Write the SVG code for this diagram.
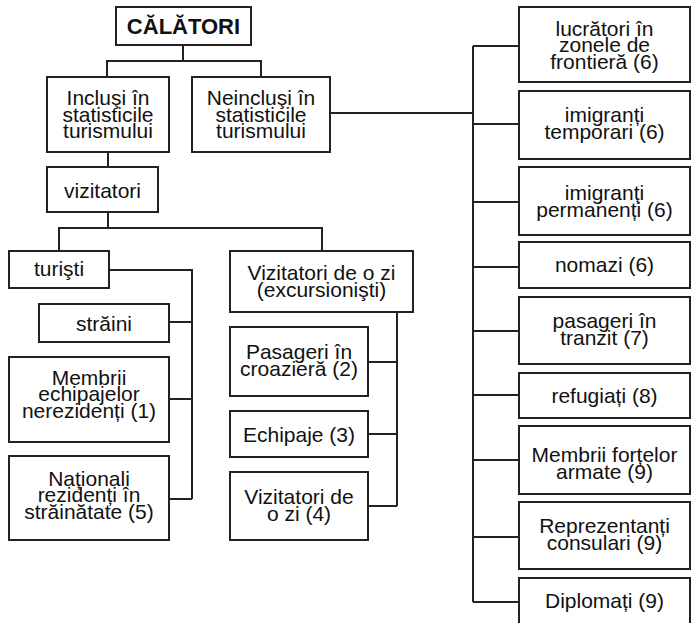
<svg xmlns="http://www.w3.org/2000/svg" width="692" height="623" viewBox="0 0 692 623">
<style>
rect.box{fill:#fff;stroke:#222;stroke-width:2}
.conn path{fill:none;stroke:#222;stroke-width:2}
text{font-family:"Liberation Sans",Arial,sans-serif;font-size:21px;fill:#111;text-anchor:middle}
text.title{font-weight:bold;font-size:22px}
</style>
<rect width="692" height="623" fill="#fff"/>
<g class="conn" id="connectors">
<path d="M183 45V61M107 77V61H261V77"/>
<path d="M108 152V167"/>
<path d="M108 212V228M59 251V228H322V251"/>
<path d="M109 270H192V499M169 322H192M169 399H192M169 499H192"/>
<path d="M397 312V506M368 362H397M368 434H397M368 506H397"/>
<path d="M330 113H473M473 46V602M473 46H519M473 124H519M473 202H519M473 267H519M473 331H519M473 395H519M473 460H519M473 537H519M473 602H519"/>
</g>
<g id="calatori"><rect class="box" x="116" y="7" width="135" height="38"/><text class="title" x="183.5" y="34">CĂLĂTORI</text></g>
<g id="inclusi"><rect class="box" x="47" y="77" width="122" height="75"/><text x="108" y="105">Incluşi în<tspan x="108" dy="16.5">statisticile</tspan><tspan x="108" dy="16.5">turismului</tspan></text></g>
<g id="neinclusi"><rect class="box" x="192" y="77" width="138" height="75"/><text x="261" y="105">Neincluşi în<tspan x="261" dy="16.5">statisticile</tspan><tspan x="261" dy="16.5">turismului</tspan></text></g>
<g id="vizitatori"><rect class="box" x="47" y="167" width="111" height="45"/><text x="102.5" y="198">vizitatori</text></g>
<g id="turisti"><rect class="box" x="9" y="251" width="100" height="37"/><text x="59" y="276">turişti</text></g>
<g id="straini"><rect class="box" x="39" y="304" width="130" height="38"/><text x="104" y="330.5">străini</text></g>
<g id="membrii-echipajelor"><rect class="box" x="9" y="357" width="160" height="85"/><text x="89" y="384.5">Membrii<tspan x="89" dy="16.5">echipajelor</tspan><tspan x="89" dy="16.5">nerezidenți (1)</tspan></text></g>
<g id="nationali"><rect class="box" x="9" y="456" width="160" height="84"/><text x="89" y="485.5">Naționali<tspan x="89" dy="16.5">rezidenți în</tspan><tspan x="89" dy="16.5">străinătate (5)</tspan></text></g>
<g id="vizitatori-o-zi"><rect class="box" x="230" y="251" width="183" height="61"/><text x="321.5" y="280">Vizitatori de o zi<tspan x="321.5" dy="16.5">(excursionişti)</tspan></text></g>
<g id="pasageri-croaziera"><rect class="box" x="230" y="327" width="138" height="69"/><text x="299" y="359">Pasageri în<tspan x="299" dy="16.5">croazieră (2)</tspan></text></g>
<g id="echipaje"><rect class="box" x="230" y="411" width="138" height="46"/><text x="299" y="441.5">Echipaje (3)</text></g>
<g id="vizitatori-4"><rect class="box" x="230" y="472" width="138" height="68"/><text x="299" y="504">Vizitatori de<tspan x="299" dy="16.5">o zi (4)</tspan></text></g>
<g id="lucratori"><rect class="box" x="519" y="7" width="171" height="75"/><text x="604.5" y="35.5">lucrători în<tspan x="604.5" dy="16.5">zonele de</tspan><tspan x="604.5" dy="16.5">frontieră (6)</tspan></text></g>
<g id="imigranti-temporari"><rect class="box" x="519" y="91" width="171" height="68"/><text x="604.5" y="122">imigranți<tspan x="604.5" dy="16.5">temporari (6)</tspan></text></g>
<g id="imigranti-permanenti"><rect class="box" x="519" y="167" width="171" height="68"/><text x="604.5" y="200">imigranți<tspan x="604.5" dy="16.5">permanenți (6)</tspan></text></g>
<g id="nomazi"><rect class="box" x="519" y="242" width="171" height="46"/><text x="604.5" y="272">nomazi (6)</text></g>
<g id="pasageri-tranzit"><rect class="box" x="519" y="297" width="171" height="67"/><text x="604.5" y="328">pasageri în<tspan x="604.5" dy="16.5">tranzit (7)</tspan></text></g>
<g id="refugiati"><rect class="box" x="519" y="373" width="171" height="45"/><text x="604.5" y="402.5">refugiați (8)</text></g>
<g id="membrii-fortelor"><rect class="box" x="519" y="426" width="171" height="68"/><text x="604.5" y="462">Membrii forțelor<tspan x="604.5" dy="16.5">armate (9)</tspan></text></g>
<g id="reprezentanti"><rect class="box" x="519" y="502" width="171" height="67"/><text x="604.5" y="533">Reprezentanți<tspan x="604.5" dy="16.5">consulari (9)</tspan></text></g>
<g id="diplomati"><rect class="box" x="519" y="578" width="171" height="48"/><text x="604.5" y="608">Diplomați (9)</text></g>
</svg>
